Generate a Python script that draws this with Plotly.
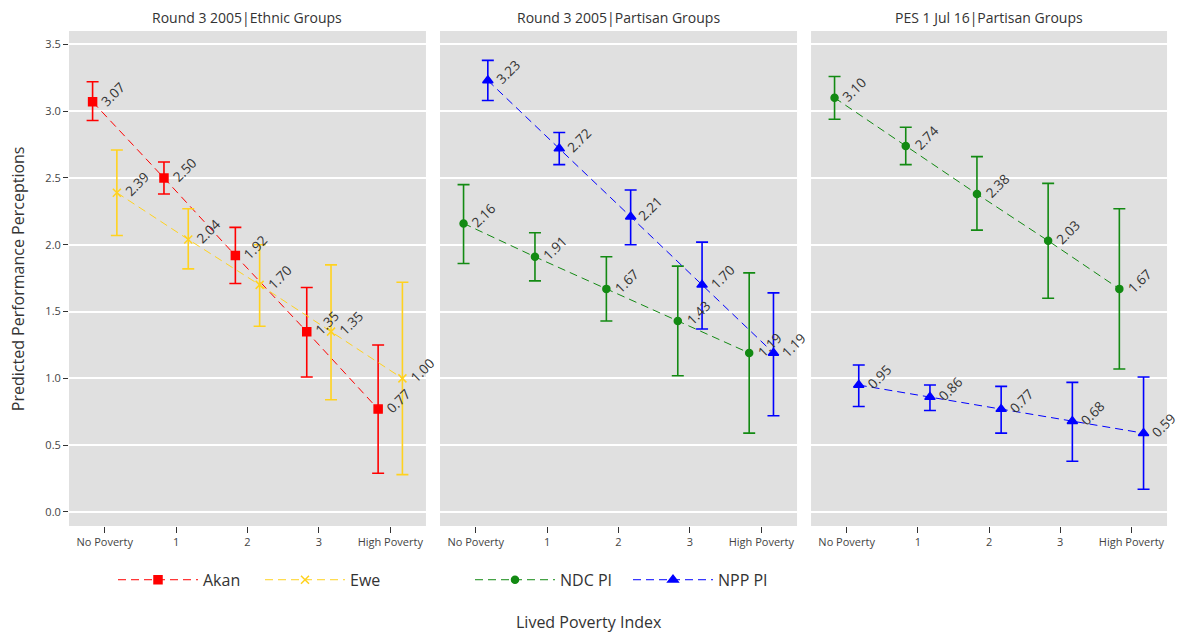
import plotly.graph_objects as go

# Poverty index categories on the x axis
categories = ["No Poverty", "1", "2", "3", "High Poverty"]

# Panel 1: Round 3 2005, ethnic groups
akan_est = [3.07, 2.50, 1.92, 1.35, 0.77]
akan_lo = [2.93, 2.38, 1.71, 1.01, 0.29]
akan_hi = [3.22, 2.62, 2.13, 1.68, 1.25]
ewe_est = [2.39, 2.04, 1.70, 1.35, 1.00]
ewe_lo = [2.07, 1.82, 1.39, 0.84, 0.28]
ewe_hi = [2.71, 2.27, 2.00, 1.85, 1.72]

# Panel 2: Round 3 2005, partisan groups
ndc05_est = [2.16, 1.91, 1.67, 1.43, 1.19]
ndc05_lo = [1.86, 1.73, 1.43, 1.02, 0.59]
ndc05_hi = [2.45, 2.09, 1.91, 1.84, 1.79]
npp05_est = [3.23, 2.72, 2.21, 1.70, 1.19]
npp05_lo = [3.08, 2.60, 2.00, 1.37, 0.72]
npp05_hi = [3.38, 2.84, 2.41, 2.02, 1.64]

# Panel 3: PES 1 Jul 16, partisan groups
ndc16_est = [3.10, 2.74, 2.38, 2.03, 1.67]
ndc16_lo = [2.94, 2.60, 2.11, 1.60, 1.07]
ndc16_hi = [3.26, 2.88, 2.66, 2.46, 2.27]
npp16_est = [0.95, 0.86, 0.77, 0.68, 0.59]
npp16_lo = [0.79, 0.76, 0.59, 0.38, 0.17]
npp16_hi = [1.10, 0.95, 0.94, 0.97, 1.01]

panel_titles = ["Round 3 2005|Ethnic Groups", "Round 3 2005|Partisan Groups", "PES 1 Jul 16|Partisan Groups"]

FONT = "Open Sans"
TXT = "#333333"
DODGE = 0.17

series = [
    # panel, name, est, lo, hi, colour, symbol, side, size, legend, show
    (1, "Akan", akan_est, akan_lo, akan_hi, "#FF0000", "square", -1, 8, "legend", True),
    (1, "Ewe", ewe_est, ewe_lo, ewe_hi, "#FFD21F", "x-thin-open", 1, 8, "legend2", True),
    (2, "NDC PI", ndc05_est, ndc05_lo, ndc05_hi, "#138A13", "circle", -1, 7, "legend3", True),
    (2, "NPP PI", npp05_est, npp05_lo, npp05_hi, "#0000FF", "triangle-up", 1, 9, "legend4", True),
    (3, "NDC PI", ndc16_est, ndc16_lo, ndc16_hi, "#138A13", "circle", -1, 7, "legend3", False),
    (3, "NPP PI", npp16_est, npp16_lo, npp16_hi, "#0000FF", "triangle-up", 1, 9, "legend4", False),
]

fig = go.Figure()
annotations = []

for panel, name, est, lo, hi, col, sym, side, msize, leg, show in series:
    xs = [i + side * DODGE for i in range(len(categories))]
    plus = [h - e for h, e in zip(hi, est)]
    minus = [e - l for e, l in zip(est, lo)]
    ax = "x" if panel == 1 else f"x{panel}"
    ay = "y" if panel == 1 else f"y{panel}"
    fig.add_trace(go.Scatter(
        x=xs, y=est, name=name, mode="lines+markers",
        xaxis=ax, yaxis=ay, legend=leg, showlegend=show,
        line=dict(color=col, width=1, dash="8px,5px"),
        marker=dict(color=col, symbol=sym, size=msize,
                    line=dict(color=col, width=1.5)),
        error_y=dict(type="data", symmetric=False, array=plus, arrayminus=minus,
                     color=col, thickness=1.6, width=6),
    ))
    for xv, v in zip(xs, est):
        annotations.append(dict(
            x=xv, y=v, xref=ax, yref=ay, text=f"{v:.2f}", textangle=-45,
            showarrow=False, xanchor="left", yanchor="bottom", borderpad=0,
            xshift=3, yshift=-9, font=dict(family=FONT, size=13.5, color=TXT),
        ))

x_domains = [[0.0586, 0.3616], [0.3735, 0.6766], [0.6885, 0.9907]]
y_domain = [0.169, 0.951]

layout = dict(
    width=1178, height=633,
    margin=dict(l=0, r=0, t=0, b=0),
    paper_bgcolor="white", plot_bgcolor="#E0E0E0",
    font=dict(family=FONT, color=TXT),
)

for k, dom in enumerate(x_domains, start=1):
    xk = "xaxis" if k == 1 else f"xaxis{k}"
    yk = "yaxis" if k == 1 else f"yaxis{k}"
    layout[xk] = dict(
        domain=dom, range=[-0.5, 4.5], anchor="y" if k == 1 else f"y{k}",
        tickvals=list(range(len(categories))), ticktext=categories,
        showgrid=False, zeroline=False, showline=False,
        ticks="outside", ticklen=6, tickcolor="#333333", tickwidth=1,
        tickfont=dict(family=FONT, size=11, color="#444444"),
    )
    layout[yk] = dict(
        domain=y_domain, range=[-0.105, 3.6], anchor="x" if k == 1 else f"x{k}",
        tickvals=[0, 0.5, 1.0, 1.5, 2.0, 2.5, 3.0, 3.5],
        ticktext=["0.0", "0.5", "1.0", "1.5", "2.0", "2.5", "3.0", "3.5"] if k == 1 else None,
        showticklabels=(k == 1),
        showgrid=True, gridcolor="white", gridwidth=1.5,
        zeroline=False, showline=False,
        ticks="outside" if k == 1 else "", ticklen=5, tickcolor="#333333",
        tickfont=dict(family=FONT, size=11, color="#444444"),
    )
    annotations.append(dict(
        x=(dom[0] + dom[1]) / 2, y=0.973, xref="paper", yref="paper",
        text=panel_titles[k - 1], showarrow=False, xanchor="center", yanchor="middle",
        font=dict(family=FONT, size=14, color=TXT),
    ))

annotations.append(dict(
    x=0.5, y=0.017, xref="paper", yref="paper", text="Lived Poverty Index",
    showarrow=False, xanchor="center", yanchor="middle",
    font=dict(family=FONT, size=16, color=TXT),
))
annotations.append(dict(
    x=0.015, y=0.56, xref="paper", yref="paper", text="Predicted Performance Perceptions",
    showarrow=False, textangle=-90, xanchor="center", yanchor="middle",
    font=dict(family=FONT, size=16, color=TXT),
))

layout["annotations"] = annotations

# one legend box per series, laid out beneath the first two panels
legend_left_px = {"legend": 113, "legend2": 260, "legend3": 470, "legend4": 628}
for key, px in legend_left_px.items():
    layout[key] = dict(
        orientation="h", x=px / 1178, y=0.084, xanchor="left", yanchor="middle",
        font=dict(family=FONT, size=16, color=TXT), bgcolor="rgba(0,0,0,0)",
        itemwidth=80,
    )

fig.update_layout(**layout)
fig.write_html("out.html")
